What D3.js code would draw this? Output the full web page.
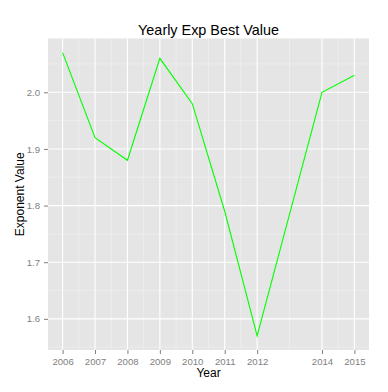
<!DOCTYPE html>
<html>
<head>
<meta charset="utf-8">
<script src="https://cdn.jsdelivr.net/npm/d3@7"></script>
<style>
  body { margin: 0; background: #fff; }
  svg text { font-family: "Liberation Sans", Arial, sans-serif; }
</style>
</head>
<body>
<div id="chart"></div>
<script>
// yearly best exponent values
var years = [2006, 2007, 2008, 2009, 2010, 2011, 2012, 2014, 2015];
var values = [2.07, 1.92, 1.88, 2.06, 1.98, 1.79, 1.57, 2.00, 2.03];
var yTicks = [1.6, 1.7, 1.8, 1.9, 2.0];
var yMinor = [1.55, 1.65, 1.75, 1.85, 1.95, 2.05];
var xMinor = [2006.5, 2007.5, 2008.5, 2009.5, 2010.5, 2011.5, 2013, 2014.5];

var width = 388, height = 392;
var panel = {left: 48, right: 369, top: 38.5, bottom: 350};

var svg = d3.select("#chart").append("svg")
    .attr("width", width)
    .attr("height", height);

// ggplot style 5% expansion
var xr = d3.extent(years), xpad = (xr[1] - xr[0]) * 0.05;
var yr = d3.extent(values), ypad = (yr[1] - yr[0]) * 0.05;

var x = d3.scaleLinear()
    .domain([xr[0] - xpad, xr[1] + xpad])
    .range([panel.left, panel.right]);
var y = d3.scaleLinear()
    .domain([yr[0] - ypad, yr[1] + ypad])
    .range([panel.bottom, panel.top]);

svg.append("rect")
    .attr("x", panel.left).attr("y", panel.top)
    .attr("width", panel.right - panel.left)
    .attr("height", panel.bottom - panel.top)
    .attr("fill", "#E5E5E5");

// minor grid
svg.append("g").selectAll("line").data(yMinor).enter().append("line")
    .attr("x1", panel.left).attr("x2", panel.right)
    .attr("y1", d => y(d)).attr("y2", d => y(d))
    .attr("stroke", "#F2F2F2").attr("stroke-width", 0.6);
svg.append("g").selectAll("line").data(xMinor).enter().append("line")
    .attr("y1", panel.top).attr("y2", panel.bottom)
    .attr("x1", d => x(d)).attr("x2", d => x(d))
    .attr("stroke", "#F2F2F2").attr("stroke-width", 0.6);

// major grid
svg.append("g").selectAll("line").data(yTicks).enter().append("line")
    .attr("x1", panel.left).attr("x2", panel.right)
    .attr("y1", d => y(d)).attr("y2", d => y(d))
    .attr("stroke", "#fff").attr("stroke-width", 1.1);
svg.append("g").selectAll("line").data(years).enter().append("line")
    .attr("y1", panel.top).attr("y2", panel.bottom)
    .attr("x1", d => x(d)).attr("x2", d => x(d))
    .attr("stroke", "#fff").attr("stroke-width", 1.1);

// the line
var line = d3.line()
    .x((d, i) => x(years[i]))
    .y(d => y(d));
svg.append("path")
    .datum(values)
    .attr("d", line)
    .attr("fill", "none")
    .attr("stroke", "#00FF00")
    .attr("stroke-width", 1.1);

// axes
var xAxis = svg.append("g")
    .attr("transform", "translate(0," + panel.bottom + ")")
    .call(d3.axisBottom(x).tickValues(years).tickFormat(d3.format("d")).tickSize(4).tickPadding(4));
var yAxis = svg.append("g")
    .attr("transform", "translate(" + panel.left + ",0)")
    .call(d3.axisLeft(y).tickValues(yTicks).tickFormat(d3.format(".1f")).tickSize(4).tickPadding(4));

[xAxis, yAxis].forEach(function(a) {
  a.select(".domain").remove();
  a.selectAll(".tick line").attr("stroke", "#7F7F7F");
  a.selectAll(".tick text").attr("fill", "#7F7F7F").style("font-size", "9.6px");
});

svg.append("text")
    .attr("x", (panel.left + panel.right) / 2).attr("y", 35)
    .attr("text-anchor", "middle")
    .style("font-size", "14.4px")
    .text("Yearly Exp Best Value");

svg.append("text")
    .attr("x", (panel.left + panel.right) / 2).attr("y", 377)
    .attr("text-anchor", "middle")
    .style("font-size", "12px")
    .text("Year");

svg.append("text")
    .attr("transform", "translate(24," + ((panel.top + panel.bottom) / 2) + ")rotate(-90)")
    .attr("text-anchor", "middle")
    .style("font-size", "12px")
    .text("Exponent Value");
</script>
</body>
</html>
